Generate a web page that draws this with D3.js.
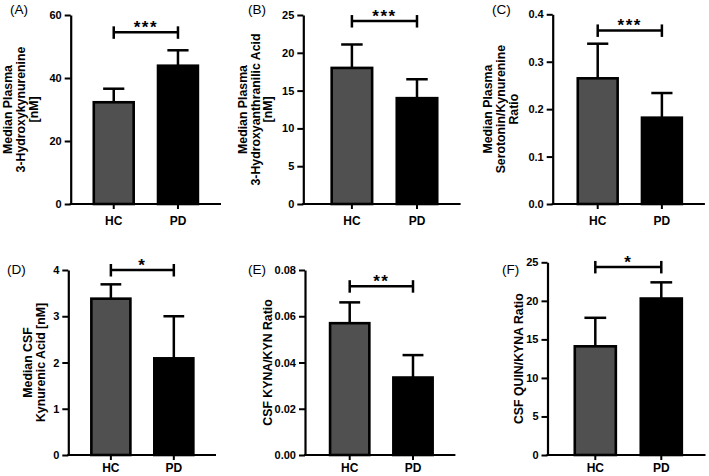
<!DOCTYPE html>
<html>
<head>
<meta charset="utf-8">
<script src="https://cdn.jsdelivr.net/npm/d3@7"></script>
<style>
  html, body { margin: 0; padding: 0; background: #fff; }
  svg { display: block; font-family: "Liberation Sans", Arial, sans-serif; }
</style>
</head>
<body>
<svg id="chart" width="709" height="476"></svg>
<script>
// ---------- data ----------
const groups = ["HC", "PD"];
const panelLetters = ["(A)", "(B)", "(C)", "(D)", "(E)", "(F)"];
const titles = [
  ["Median Plasma", "3-Hydroxykynurenine", "[nM]"],
  ["Median Plasma", "3-Hydroxyanthranilic Acid", "[nM]"],
  ["Median Plasma", "Serotonin/Kynurenine", "Ratio"],
  ["Median CSF", "Kynurenic Acid [nM]"],
  ["CSF KYNA/KYN Ratio"],
  ["CSF QUIN/KYNA Ratio"]
];
const medians = [
  [32.3, 43.9],
  [18.0, 14.0],
  [0.265, 0.182],
  [3.38, 2.09],
  [0.057, 0.0335],
  [14.1, 20.3]
];
const upperErr = [
  [36.6, 48.8],
  [21.1, 16.5],
  [0.338, 0.234],
  [3.69, 3.0],
  [0.066, 0.0432],
  [17.8, 22.4]
];
const yMax = [60, 25, 0.4, 4, 0.08, 25];
const tickSteps = [20, 5, 0.1, 1, 0.02, 5];
const tickFormats = ["d", "d", ".1f", "d", ".2f", "d"];
const sigLabels = ["***", "***", "***", "*", "**", "*"];
const sigLevels = [54.5, 24.2, 0.366, 4.0, 0.073, 24.4];

// ---------- layout ----------
const layout = [
  { ax: 70.7, r0: 70.7, r1: 221, top: 15, bottom: 204, lx: 10, ly: 14, tx: 12.3, xpad: 7 },
  { ax: 303.3, r0: 308.3, r1: 460.6, top: 15, bottom: 204, lx: 248, ly: 14, tx: 246.8, xpad: 7 },
  { ax: 552.7, r0: 554.7, r1: 704.9, top: 14.3, bottom: 204, lx: 492, ly: 14, tx: 492, xpad: 7 },
  { ax: 68.3, r0: 68.7, r1: 216, top: 270, bottom: 455, lx: 7, ly: 274, tx: 32, xpad: 3.5 },
  { ax: 305, r0: 307.3, r1: 455.4, top: 270, bottom: 455, lx: 248, ly: 274, tx: 271.5, xpad: 3.5 },
  { ax: 547.5, r0: 551.1, r1: 705.5, top: 262.3, bottom: 455, lx: 502, ly: 274, tx: 523, xpad: 3.5 }
];
const fills = { HC: "#505050", PD: "#000000" };

const svg = d3.select("#chart");

layout.forEach((L, i) => {
  const g = svg.append("g");
  const y = d3.scaleLinear().domain([0, yMax[i]]).range([L.bottom, L.top]);
  const x = d3.scaleBand().domain(groups).range([L.r0, L.r1]).paddingInner(0.34).paddingOuter(0.34);
  const bw = x.bandwidth();

  // bars
  g.selectAll("rect.bar").data(groups).join("rect")
    .attr("class", "bar")
    .attr("x", d => x(d) + 1.25)
    .attr("width", bw - 2.5)
    .attr("y", (d, j) => y(medians[i][j]))
    .attr("height", (d, j) => y(0) - y(medians[i][j]))
    .attr("fill", d => fills[d])
    .attr("stroke", "#000")
    .attr("stroke-width", 2.6);

  // error bars (upper only)
  groups.forEach((d, j) => {
    const cx = x(d) + bw / 2;
    g.append("line")
      .attr("x1", cx).attr("x2", cx)
      .attr("y1", y(medians[i][j])).attr("y2", y(upperErr[i][j]))
      .attr("stroke", "#000").attr("stroke-width", 2.5);
    g.append("line")
      .attr("x1", cx - bw / 4).attr("x2", cx + bw / 4)
      .attr("y1", y(upperErr[i][j])).attr("y2", y(upperErr[i][j]))
      .attr("stroke", "#000").attr("stroke-width", 2.5);
  });

  // y axis
  const ticks = d3.range(0, yMax[i] + tickSteps[i] / 2, tickSteps[i]);
  const yAxis = g.append("g")
    .attr("transform", `translate(${L.ax},0)`)
    .call(d3.axisLeft(y).tickValues(ticks).tickFormat(d3.format(tickFormats[i]))
      .tickSize(6).tickSizeOuter(0).tickPadding(3));
  yAxis.select(".domain").attr("stroke-width", 2.2);
  yAxis.selectAll(".tick line").attr("stroke-width", 2);
  yAxis.selectAll("text").attr("font-size", 11).attr("font-weight", "bold").attr("fill", "#000")
    .attr("font-family", "Liberation Sans, Arial, sans-serif");

  // x axis line
  g.append("line")
    .attr("x1", L.ax - 1.1).attr("x2", L.r1)
    .attr("y1", L.bottom).attr("y2", L.bottom)
    .attr("stroke", "#000").attr("stroke-width", 2.2);
  const xAxis = g.append("g")
    .attr("transform", `translate(0,${L.bottom})`)
    .call(d3.axisBottom(x).tickSize(5).tickSizeOuter(0).tickPadding(L.xpad));
  xAxis.select(".domain").remove();
  xAxis.selectAll(".tick line").attr("stroke-width", 2);
  xAxis.selectAll("text").attr("font-size", 12).attr("font-weight", "bold").attr("fill", "#000")
    .attr("font-family", "Liberation Sans, Arial, sans-serif");

  // significance bracket
  const bx1 = x(groups[0]) + bw / 2, bx2 = x(groups[1]) + bw / 2, by = y(sigLevels[i]);
  g.append("line").attr("x1", bx1).attr("x2", bx2).attr("y1", by).attr("y2", by)
    .attr("stroke", "#000").attr("stroke-width", 2.5);
  [bx1, bx2].forEach(bx => {
    g.append("line").attr("x1", bx).attr("x2", bx).attr("y1", by - 6).attr("y2", by + 6.5)
      .attr("stroke", "#000").attr("stroke-width", 2.5);
  });
  g.append("text")
    .attr("x", (bx1 + bx2) / 2).attr("y", by + 1)
    .attr("text-anchor", "middle")
    .attr("font-size", 17).attr("font-weight", "bold")
    .attr("letter-spacing", 1.5)
    .text(sigLabels[i]);

  // y title (rotated, multi-line)
  const midY = (L.top + L.bottom) / 2;
  titles[i].forEach((t, k) => {
    const bx = L.tx + k * 12.8;
    g.append("text")
      .attr("transform", `translate(${bx},${midY}) rotate(-90)`)
      .attr("text-anchor", "middle")
      .attr("font-size", 12.3).attr("font-weight", "bold")
      .text(t);
  });

  // panel letter
  g.append("text")
    .attr("x", L.lx).attr("y", L.ly)
    .attr("font-size", 13.5)
    .text(panelLetters[i]);
});
</script>
</body>
</html>
